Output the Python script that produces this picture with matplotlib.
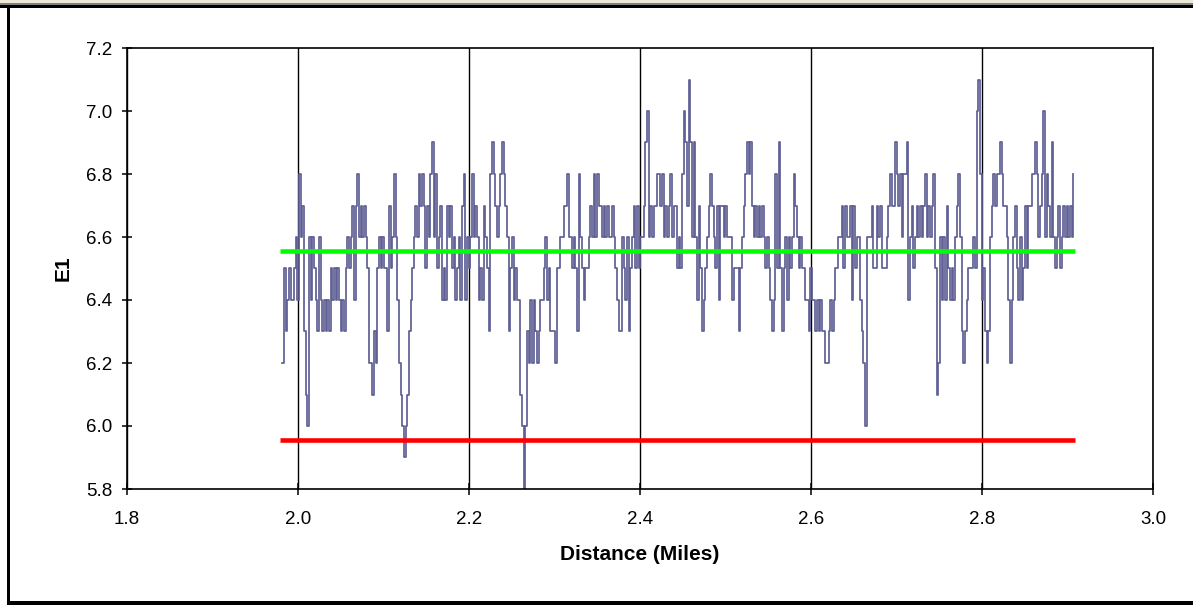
import numpy as np
import matplotlib
matplotlib.use("Agg")
import matplotlib.pyplot as plt
from matplotlib.patches import Rectangle

# E1 readings in consecutive stretches of distance
e1_part1 = [6.2, 6.5, 6.3, 6.4, 6.5, 6.4, 6.4, 6.5, 6.6, 6.4, 6.8, 6.6, 6.7, 6.3, 6.1, 6.0,
            6.6, 6.4, 6.6, 6.5, 6.4, 6.3, 6.6, 6.4, 6.3, 6.4, 6.3, 6.4, 6.3, 6.5, 6.4, 6.5,
            6.4, 6.5, 6.4, 6.3, 6.4, 6.3, 6.5, 6.6, 6.5, 6.6, 6.7, 6.4, 6.7, 6.8, 6.6, 6.7,
            6.6, 6.7, 6.6, 6.5, 6.2, 6.2, 6.1, 6.3]
e1_part2 = [6.2, 6.5, 6.6, 6.5, 6.6, 6.5, 6.5, 6.3, 6.7, 6.5, 6.6, 6.8, 6.6, 6.4, 6.2, 6.1,
            6.0, 5.9, 6.0, 6.1, 6.3, 6.4, 6.5, 6.6, 6.7, 6.6, 6.8, 6.7, 6.8, 6.7, 6.5, 6.7,
            6.6, 6.8, 6.9, 6.6, 6.8, 6.5, 6.6, 6.7, 6.4, 6.5, 6.4, 6.7, 6.6, 6.7, 6.5, 6.6,
            6.4, 6.5, 6.6, 6.4, 6.7, 6.8, 6.4, 6.6, 6.5, 6.6, 6.8, 6.6]
e1_part3 = [6.7, 6.6, 6.4, 6.5, 6.4, 6.7, 6.6, 6.5, 6.3, 6.8, 6.9, 6.8, 6.7, 6.6, 6.7, 6.8,
            6.9, 6.8, 6.7, 6.6, 6.3, 6.5, 6.6, 6.4, 6.5, 6.4, 6.4, 6.1, 6.0, 5.8, 6.0, 6.3,
            6.2, 6.4, 6.2, 6.4, 6.3, 6.2, 6.3, 6.4, 6.4, 6.5, 6.6, 6.4, 6.5, 6.3, 6.3, 6.3,
            6.2, 6.5, 6.5, 6.6, 6.6, 6.7, 6.7, 6.8, 6.6, 6.6, 6.5, 6.6]
e1_part4 = [6.5, 6.3, 6.8, 6.6, 6.5, 6.4, 6.5, 6.5, 6.6, 6.7, 6.6, 6.8, 6.6, 6.8, 6.7, 6.7,
            6.6, 6.7, 6.6, 6.7, 6.6, 6.6, 6.7, 6.6, 6.5, 6.4, 6.3, 6.3, 6.6, 6.5, 6.4, 6.6,
            6.3, 6.5, 6.6, 6.7, 6.5, 6.7, 6.5, 6.6, 6.6, 6.7, 6.9, 7.0, 6.6, 6.7, 6.6, 6.7,
            6.7, 6.8, 6.8, 6.7, 6.8, 6.6, 6.7, 6.6, 6.7, 6.8, 6.6, 6.7]
e1_part5 = [6.7, 6.5, 6.6, 6.5, 6.8, 7.0, 6.9, 6.7, 7.1, 6.9, 6.6, 6.9, 6.6, 6.4, 6.7, 6.5,
            6.3, 6.4, 6.5, 6.6, 6.7, 6.8, 6.7, 6.6, 6.5, 6.7, 6.4, 6.7, 6.7, 6.6, 6.7, 6.6,
            6.6, 6.6, 6.4, 6.5, 6.5, 6.5, 6.3, 6.5, 6.6, 6.7, 6.8, 6.9, 6.8, 6.9, 6.7, 6.6,
            6.7, 6.6, 6.7, 6.6, 6.7, 6.6, 6.5, 6.6, 6.5, 6.4, 6.3, 6.4]
e1_part6 = [6.8, 6.5, 6.9, 6.5, 6.3, 6.5, 6.6, 6.4, 6.6, 6.5, 6.6, 6.8, 6.7, 6.6, 6.5, 6.6,
            6.5, 6.5, 6.4, 6.4, 6.3, 6.5, 6.4, 6.4, 6.3, 6.4, 6.3, 6.4, 6.3, 6.3, 6.2, 6.2,
            6.3, 6.4, 6.3, 6.4, 6.5, 6.5, 6.6, 6.6, 6.7, 6.5, 6.7, 6.6, 6.6, 6.7, 6.4, 6.7,
            6.5, 6.6, 6.6, 6.4, 6.3, 6.2, 6.0, 6.6, 6.6, 6.6, 6.7, 6.5]
e1_part7 = [6.5, 6.7, 6.6, 6.7, 6.5, 6.5, 6.5, 6.6, 6.7, 6.8, 6.7, 6.7, 6.9, 6.8, 6.7, 6.8,
            6.6, 6.8, 6.8, 6.9, 6.4, 6.6, 6.7, 6.5, 6.6, 6.7, 6.6, 6.7, 6.6, 6.7, 6.8, 6.6,
            6.7, 6.6, 6.7, 6.8, 6.5, 6.1, 6.2, 6.6, 6.4, 6.6, 6.4, 6.7, 6.5, 6.4, 6.5, 6.4,
            6.6, 6.7, 6.8, 6.6, 6.3, 6.2, 6.3, 6.4, 6.5, 6.5, 6.5, 6.6]
e1_part8 = [6.5, 7.0, 7.1, 6.8, 6.4, 6.5, 6.3, 6.2, 6.3, 6.6, 6.7, 6.8, 6.7, 6.8, 6.8, 6.9,
            6.8, 6.7, 6.7, 6.6, 6.4, 6.2, 6.4, 6.6, 6.7, 6.5, 6.4, 6.6, 6.4, 6.5, 6.7, 6.5,
            6.7, 6.7, 6.8, 6.8, 6.9, 6.8, 6.6, 6.7, 6.8, 7.0, 6.6, 6.8, 6.7, 6.6, 6.9, 6.6,
            6.5, 6.6, 6.7, 6.5, 6.6, 6.7, 6.6, 6.7, 6.6, 6.7, 6.6, 6.8]

start_mile = 1.9816
end_mile = 2.9068

# limit lines
upper_limit = 6.555
lower_limit = 5.955
limit_span = [1.979, 2.909]

x_ticks = [1.8, 2.0, 2.2, 2.4, 2.6, 2.8, 3.0]
y_ticks = [5.8, 6.0, 6.2, 6.4, 6.6, 6.8, 7.0, 7.2]

e1 = np.concatenate([e1_part1, e1_part2, e1_part3, e1_part4,
                     e1_part5, e1_part6, e1_part7, e1_part8])
distance = np.linspace(start_mile, end_mile, len(e1))

plt.rcParams['font.family'] = ['Liberation Sans', 'DejaVu Sans']

W, H = 1193, 606
fig = plt.figure(figsize=(W / 100, H / 100), dpi=100)


def px_rect(x0, y0, x1, y1, color):
    fig.add_artist(Rectangle((x0 / W, 1 - y1 / H), (x1 - x0) / W, (y1 - y0) / H,
                             transform=fig.transFigure, facecolor=color, lw=0))


# window frame around the chart
px_rect(0, 0, W, 3, '#ece9d8')
px_rect(0, 3, W, 5, '#808080')
px_rect(0, 5, W, 8, '#000000')
px_rect(7, 5, 10, 605, '#000000')
px_rect(7, 601, W, 605, '#000000')

ax = fig.add_axes([127 / W, 1 - 489 / H, (1153 - 127) / W, (489 - 48) / H])
ax.plot(distance, e1, color='#5f5f96', lw=1.25, drawstyle='steps-post', zorder=2)
ax.hlines(upper_limit, limit_span[0], limit_span[1], color='#00ff00', lw=3.3, zorder=3)
ax.hlines(lower_limit, limit_span[0], limit_span[1], color='#ff0000', lw=3.3, zorder=3)

ax.set_xlim(1.8, 3.0)
ax.set_ylim(5.8, 7.2)
ax.set_xticks(x_ticks)
ax.set_xticklabels([f"{t:.1f}" for t in x_ticks])
ax.set_yticks(y_ticks)
ax.set_yticklabels([f"{t:.1f}" for t in y_ticks])
ax.grid(axis='x', color='black', lw=1.0)
ax.set_axisbelow(True)
for s in ax.spines.values():
    s.set_linewidth(1.2)

ax.tick_params(axis='both', direction='inout', width=1.1, labelsize=13.5, colors='black')
ax.tick_params(axis='y', length=7.2, pad=7)
ax.tick_params(axis='x', length=8, pad=12)

ax.set_xlabel('Distance (Miles)', fontweight='bold', fontsize=15, labelpad=12)
ax.set_ylabel('E1', fontweight='bold', fontsize=15, labelpad=10)

fig.savefig('out.png', dpi=100)
